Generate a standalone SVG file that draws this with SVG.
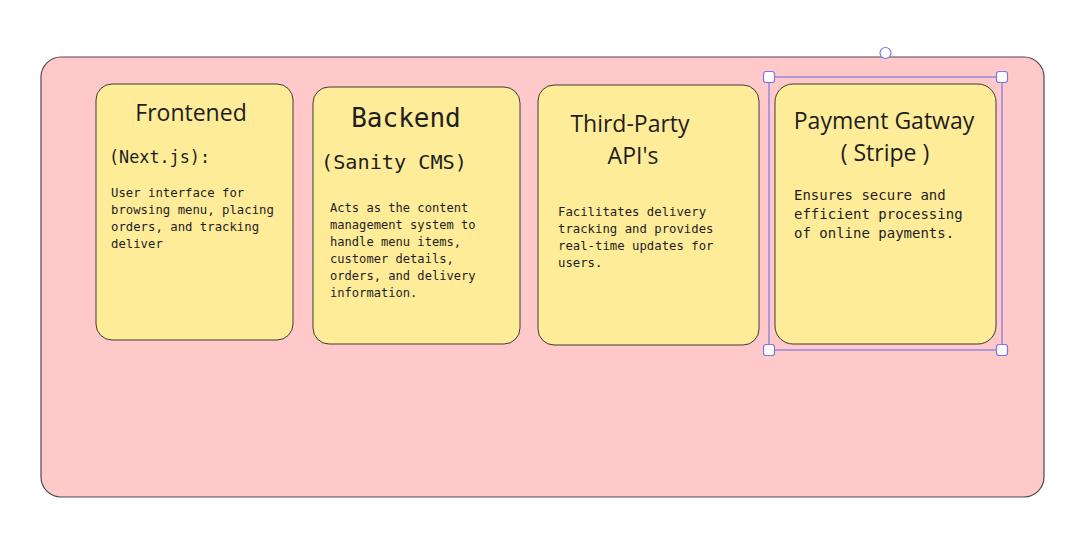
<svg xmlns="http://www.w3.org/2000/svg" width="1090" height="554" viewBox="0 0 1090 554">
<style>
.card{fill:#ffec99;stroke:#3b3b3b;stroke-width:1}
.title{font-family:"Open Sans","Noto Sans",sans-serif;font-size:23px;fill:#1e1e1e}
.mono{font-family:"DejaVu Sans Mono","Liberation Mono",monospace;fill:#1e1e1e}
.body{font-size:12.3px}
.sel{fill:none;stroke:#7b77e6;stroke-width:1.2}
.h{fill:#fff;stroke:#7b77e6;stroke-width:1.2}
</style>
<rect width="1090" height="554" fill="#ffffff"/>
<g id="container">
<rect x="41" y="57" width="1003" height="440" rx="20" fill="#ffc9c9" stroke="#4a4a4a" stroke-width="1.2"/>
</g>
<g id="frontend">
<rect class="card" x="96" y="84" width="197" height="256" rx="16"/>
<text class="title" x="191" y="121" text-anchor="middle">Frontened</text>
<text class="mono" x="109" y="163" font-size="16.8">(Next.js):</text>
<text class="mono body" x="111"><tspan x="111" y="197">User interface for</tspan><tspan x="111" y="214">browsing menu, placing</tspan><tspan x="111" y="231">orders, and tracking</tspan><tspan x="111" y="248">deliver</tspan></text>
</g>
<g id="backend">
<rect class="card" x="313" y="87" width="207" height="257" rx="16"/>
<text class="mono" x="406" y="127" font-size="26" text-anchor="middle">Backend</text>
<text class="mono" x="394" y="169" font-size="20.2" text-anchor="middle">(Sanity CMS)</text>
<text class="mono" font-size="12.1"><tspan x="330" y="212">Acts as the content</tspan><tspan x="330" y="229">management system to</tspan><tspan x="330" y="246">handle menu items,</tspan><tspan x="330" y="263">customer details,</tspan><tspan x="330" y="280">orders, and delivery</tspan><tspan x="330" y="297">information.</tspan></text>
</g>
<g id="third-party">
<rect class="card" x="538" y="85" width="221" height="260" rx="16"/>
<text class="title" x="630" y="132" text-anchor="middle">Third-Party</text>
<text class="title" x="633" y="164" text-anchor="middle">API's</text>
<text class="mono body"><tspan x="558" y="216">Facilitates delivery</tspan><tspan x="558" y="233">tracking and provides</tspan><tspan x="558" y="250">real-time updates for</tspan><tspan x="558" y="267">users.</tspan></text>
</g>
<g id="payment">
<rect class="card" x="775" y="84" width="221" height="260" rx="18"/>
<text class="title" x="884" y="129" text-anchor="middle">Payment Gatway</text>
<text class="title" x="885" y="161" text-anchor="middle">( Stripe )</text>
<text class="mono" font-size="14"><tspan x="794" y="200">Ensures secure and</tspan><tspan x="794" y="219">efficient processing</tspan><tspan x="794" y="238">of online payments.</tspan></text>
</g>
<g id="selection">
<rect class="sel" x="769" y="77" width="233" height="273"/>
<rect class="h" x="763.5" y="71.5" width="11" height="11" rx="2.5"/>
<rect class="h" x="996.5" y="71.5" width="11" height="11" rx="2.5"/>
<rect class="h" x="763.5" y="344.5" width="11" height="11" rx="2.5"/>
<rect class="h" x="996.5" y="344.5" width="11" height="11" rx="2.5"/>
<circle class="h" cx="885.5" cy="53" r="5.5"/>
</g>
<g id="connectors"></g>
</svg>
